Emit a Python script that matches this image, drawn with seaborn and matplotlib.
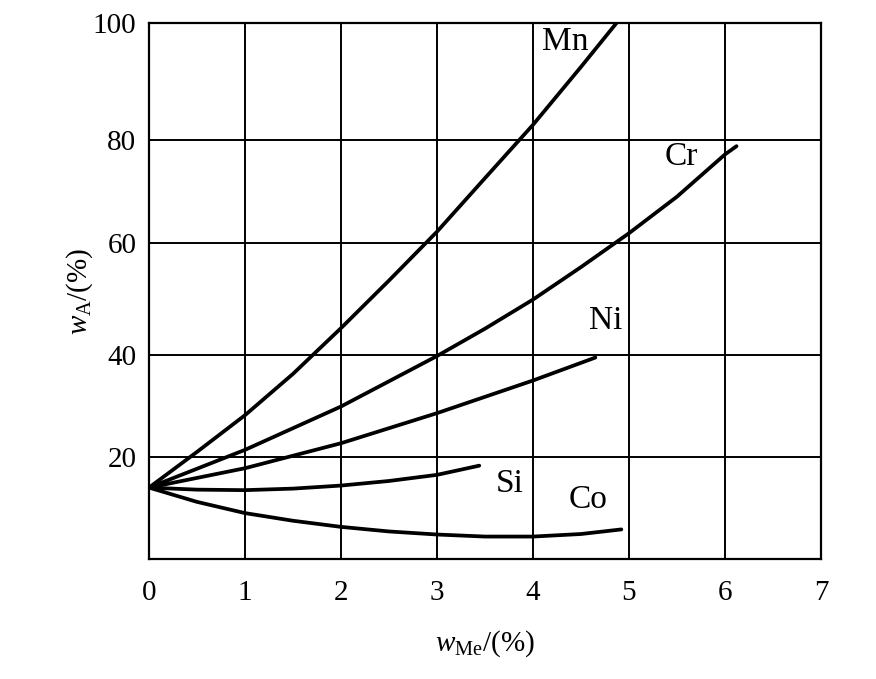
import numpy as np
import pandas as pd
import matplotlib
matplotlib.use("Agg")
import matplotlib.pyplot as plt
import seaborn as sns

# ---- data ----
mn_x = [0, 0.5, 1, 1.5, 2, 2.5, 3, 3.5, 4, 4.5, 4.87]
mn_y = [14, 21.0, 28.2, 36.3, 44.8, 53.3, 62.2, 72.6, 82.6, 92.5, 100]

cr_x = [0, 1, 2, 3, 3.5, 4, 4.5, 5, 5.5, 6, 6.12]
cr_y = [14, 21.4, 29.9, 39.8, 44.7, 49.9, 55.7, 61.9, 69.0, 77.2, 78.8]

ni_x = [0, 1, 2, 3, 4, 4.65]
ni_y = [14, 17.8, 22.7, 28.6, 35.0, 39.5]

si_x = [0, 0.5, 1, 1.5, 2, 2.5, 3, 3.44]
si_y = [14, 13.6, 13.5, 13.8, 14.4, 15.3, 16.5, 18.3]

co_x = [0, 0.5, 1, 1.5, 2, 2.5, 3, 3.5, 4, 4.5, 4.92]
co_y = [14, 11.2, 9.0, 7.5, 6.3, 5.4, 4.8, 4.4, 4.4, 4.9, 5.8]

elements = ["Mn", "Cr", "Ni", "Si", "Co"]
label_x = [4.34, 5.54, 4.76, 3.76, 4.57]
label_y = [96.8, 76.7, 46.1, 14.7, 11.6]

x_ticks = [0, 1, 2, 3, 4, 5, 6, 7]
y_ticks = [20, 40, 60, 80, 100]

# ---- build long-form table ----
frames = []
for name, xs, ys in zip(elements, [mn_x, cr_x, ni_x, si_x, co_x],
                        [mn_y, cr_y, ni_y, si_y, co_y]):
    frames.append(pd.DataFrame({"x": xs, "y": ys, "el": name}))
df = pd.concat(frames, ignore_index=True)

sns.set_style("white")
plt.rcParams["font.family"] = ["Liberation Serif", "DejaVu Serif"]
plt.rcParams["mathtext.fontset"] = "custom"
plt.rcParams["mathtext.rm"] = "Liberation Serif"
plt.rcParams["mathtext.it"] = "Liberation Serif:italic"

fig = plt.figure(figsize=(8.76, 6.79), dpi=100)
ax = fig.add_axes([149 / 876, 1 - 559 / 679, (821 - 149) / 876, (559 - 23) / 679])

# non-uniform printed y grid (as in the scanned figure)
scale_vals = [-100, 0, 20, 40, 60, 80, 100, 200]
scale_frac = [-1.0, 0.0, 102 / 536, 204 / 536, 316 / 536, 419 / 536, 1.0, 2.0]

def fwd(v):
    return np.interp(v, scale_vals, scale_frac)

def inv(f):
    return np.interp(f, scale_frac, scale_vals)

ax.set_yscale("function", functions=(fwd, inv))

sns.lineplot(data=df, x="x", y="y", hue="el", units="el", estimator=None,
             sort=False, palette=["black"] * 5, linewidth=2.7, legend=False,
             ax=ax)

ax.set_xlim(0, 7)
ax.set_ylim(0, 100)
ax.set_xticks(x_ticks)
ax.set_yticks(y_ticks)
ax.set_xticklabels([str(v) for v in x_ticks])
ax.set_yticklabels([str(v) for v in y_ticks])
ax.grid(True, color="black", linewidth=1.4)
ax.tick_params(axis="both", length=0, labelsize=21, colors="black")
ax.tick_params(axis="x", pad=15)
ax.tick_params(axis="y", pad=9)
for s in ax.spines.values():
    s.set_color("black")
    s.set_linewidth(1.6)

for name, lx, ly in zip(elements, label_x, label_y):
    ax.text(lx, ly, name, fontsize=24, ha="center", va="center", color="black")

ax.set_xlabel(r"$\mathit{w}_{\mathrm{Me}}\mathrm{/(\%)}$", fontsize=21, color="black")
ax.set_ylabel(r"$\mathit{w}_{\mathrm{A}}\mathrm{/(\%)}$", fontsize=21, color="black")
ax.xaxis.set_label_coords(0.5, -0.13)
ax.yaxis.set_label_coords(-0.08, 0.5)

fig.savefig("out.png", dpi=100)
